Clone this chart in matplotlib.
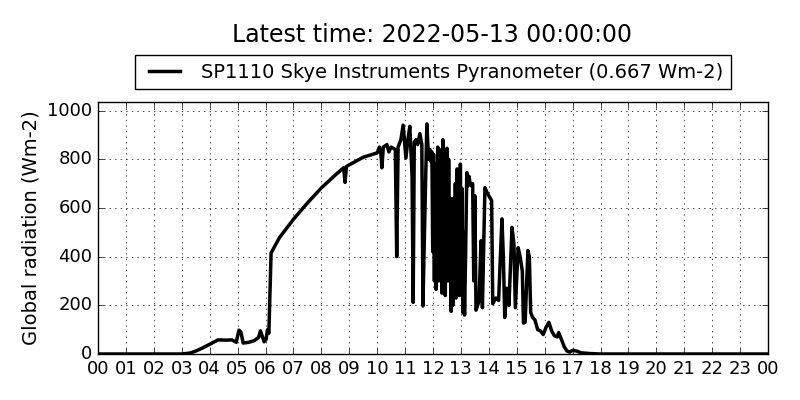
import matplotlib
matplotlib.use("Agg")
import matplotlib.pyplot as plt
import matplotlib.dates as mdates
import pandas as pd

# hours after midnight and global radiation (Wm-2)
hours = [0.0, 3.0, 3.3, 3.5, 3.75, 4.0, 4.3, 4.6, 4.8, 4.95, 5.05, 5.12, 5.2, 5.4, 5.6,
         5.75, 5.82, 5.95, 6.02, 6.07, 6.12, 6.17, 6.2, 6.5, 7.0, 7.5, 8.0, 8.5, 8.8,
         8.85, 8.9, 9.0, 9.5, 10.0, 10.08, 10.13, 10.17, 10.22, 10.35, 10.42, 10.5,
         10.65, 10.7, 10.75, 10.85, 10.93, 11.03, 11.1, 11.17, 11.25, 11.29, 11.33,
         11.39, 11.45, 11.53, 11.6, 11.64, 11.68, 11.78, 11.84,
         11.89, 11.93, 11.96, 11.99, 12.02, 12.05, 12.08, 12.11, 12.14, 12.17, 12.2,
         12.23, 12.26, 12.29, 12.32, 12.35, 12.38, 12.41, 12.44, 12.47, 12.5, 12.53,
         12.56, 12.59, 12.62, 12.65, 12.68, 12.71, 12.74, 12.77, 12.8, 12.83, 12.86,
         12.89, 12.92, 12.95, 12.98, 13.01, 13.04, 13.07, 13.1, 13.13, 13.17, 13.21,
         13.25, 13.29, 13.33, 13.38, 13.42, 13.46, 13.5, 13.54, 13.6,
         13.65, 13.72, 13.77, 13.86, 13.95, 14.1, 14.14,
         14.25, 14.35, 14.47, 14.52, 14.57, 14.65, 14.72, 14.83, 14.9, 14.95, 15.05,
         15.12, 15.2, 15.24, 15.3, 15.4, 15.45, 15.5, 15.57, 15.65, 15.75, 15.85,
         15.95, 16.05, 16.15, 16.25, 16.35, 16.45, 16.5, 16.6, 16.7, 16.8, 16.9, 17.0,
         17.15, 17.3, 17.6, 18.0, 24.0]
radiation = [0, 0, 4, 12, 25, 40, 58, 57, 58, 48, 98, 90, 45, 48, 55,
             68, 95, 50, 60, 100, 85, 300, 415, 478, 553, 620, 682, 735, 765,
             705, 770, 777, 808, 826, 850, 825, 765, 850, 860, 830, 850,
             840, 400, 850, 880, 940, 805, 880, 935, 730, 212, 870,
             880, 860, 905, 860, 197, 420, 945, 800,
             840, 790, 830, 420, 820, 300, 780, 265, 600, 850, 300,
             840, 500, 830, 250, 880, 420, 700, 240, 650, 845, 300,
             800, 400, 640, 175, 600, 200, 640, 250, 700, 230, 760,
             300, 720, 240, 780, 400, 680, 170, 500, 160, 420, 745,
             690, 730, 700, 690, 700, 300, 650, 180, 200,
             220, 465, 190, 683, 660, 630, 207,
             230, 220, 555, 400, 150, 270, 200, 520, 450, 190, 437,
             400, 340, 127, 130, 425, 400, 170, 150, 140, 100, 95,
             80, 110, 130, 95, 75, 70, 88, 60, 30, 12, 8, 15,
             12, 5, 2, 0, 0]

day = pd.Timestamp("2022-05-12")
latest = "2022-05-13 00:00:00"
sensor_label = "SP1110 Skye Instruments Pyranometer (0.667 Wm-2)"

plt.style.use("classic")
fig = plt.figure(figsize=(8, 4), dpi=100, facecolor="white")
ax = fig.add_axes([0.1225, 0.115, 0.8375, 0.63])

times = day + pd.to_timedelta(hours, unit="h")
ax.plot(times, radiation, color="black", linewidth=2.5, label=sensor_label)

ax.set_xlim(day, day + pd.Timedelta(hours=24))
ax.set_ylim(0, 1035)
ax.set_yticks(range(0, 1001, 200))
ax.xaxis.set_major_locator(mdates.HourLocator(interval=1))
ax.xaxis.set_major_formatter(mdates.DateFormatter("%H"))
ax.grid(True)
ax.set_ylabel("Global radiation (Wm-2)", fontsize=14)
ax.tick_params(labelsize=13)

ax.legend(loc="lower center", bbox_to_anchor=(0.5, 1.05), fontsize=14,
          borderaxespad=0, handlelength=2.2)
fig.text(0.54, 0.912, "Latest time: " + latest, ha="center", va="center", fontsize=17)

fig.savefig("out.png", dpi=100, facecolor="white")
